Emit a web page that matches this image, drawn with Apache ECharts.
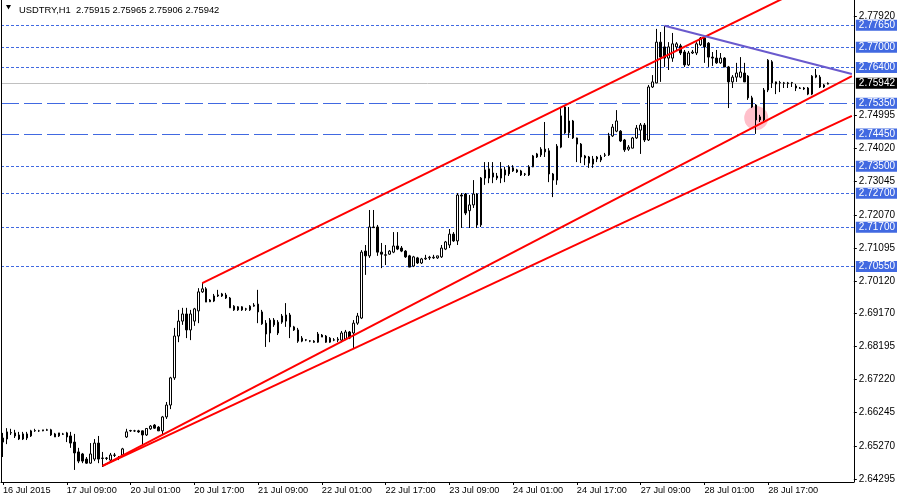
<!DOCTYPE html>
<html>
<head>
<meta charset="utf-8">
<script src="https://cdn.jsdelivr.net/npm/echarts@6/dist/echarts.min.js"></script>
<style>
html,body{margin:0;padding:0;background:#fff;}
#chart{width:900px;height:500px;}
</style>
</head>
<body>
<div id="chart"></div>
<script>
// ---- categories: trading days (label, first hour, number of hourly slots) ----
const tradingDays = [['16 Jul',17,7],['17 Jul',0,24],['20 Jul',0,24],['21 Jul',0,24],['22 Jul',0,24],
  ['23 Jul',0,24],['24 Jul',0,24],['27 Jul',0,24],['28 Jul',0,24],['29 Jul',0,15]];
const firstLabel = '16 Jul 2015';

// ---- OHLC (USDTRY, H1) ----
const opens = [2.6538,2.6547,2.6565,2.6565,2.6559,2.6547,2.6562,2.6556,2.6571,2.6571,2.6571,2.6574,2.6574,2.6562,2.6556,2.6562,2.6565,2.6556,2.6538,2.6509,
2.6503,2.6488,2.6476,2.6488,2.6535,2.6491,2.6491,2.6485,2.6500,2.6491,2.6500,2.6553,2.6571,2.6571,2.6571,2.6571,2.6559,2.6577,2.6588,2.6582,
2.6571,2.6612,2.6647,2.6727,2.6850,2.6894,2.6915,2.6868,2.6894,2.6924,2.6980,2.6989,2.6956,2.6953,2.6971,2.6974,2.6971,2.6962,2.6927,2.6936,
2.6936,2.6930,2.6927,2.6938,2.6944,2.6921,2.6888,2.6859,2.6897,2.6859,2.6891,2.6894,2.6912,2.6877,2.6868,2.6835,2.6838,2.6835,2.6835,2.6832,
2.6853,2.6850,2.6832,2.6838,2.6838,2.6838,2.6841,2.6862,2.6859,2.6888,2.6903,2.7100,2.7086,2.7171,2.7171,2.7097,2.7089,2.7091,2.7097,2.7115,
2.7109,2.7100,2.7086,2.7056,2.7080,2.7065,2.7077,2.7080,2.7080,2.7080,2.7083,2.7106,2.7118,2.7150,2.7130,2.7265,2.7268,2.7219,2.7236,2.7268,
2.7177,2.7315,2.7342,2.7330,2.7321,2.7315,2.7324,2.7327,2.7345,2.7339,2.7336,2.7327,2.7324,2.7348,2.7377,2.7383,2.7400,2.7395,2.7327,2.7309,
2.7406,2.7524,2.7448,2.7483,2.7433,2.7415,2.7380,2.7377,2.7356,2.7377,2.7368,2.7383,2.7383,2.7439,2.7453,2.7453,2.7427,2.7400,2.7403,2.7433,
2.7456,2.7471,2.7427,2.7583,2.7595,2.7715,2.7701,2.7668,2.7668,2.7701,2.7704,2.7686,2.7648,2.7683,2.7683,2.7707,2.7727,2.7712,2.7671,2.7668,
2.7654,2.7668,2.7642,2.7598,2.7612,2.7612,2.7624,2.7615,2.7551,2.7530,2.7495,2.7486,2.7574,2.7657,2.7598,2.7595,2.7595,2.7595,2.7595,2.7586,
2.7580,2.7580,2.7580,2.7562,2.7612,2.7612,2.7589,2.75915];
const highs = [2.6565,2.6579,2.6577,2.6574,2.6568,2.6568,2.6568,2.6574,2.6577,2.6574,2.6574,2.6577,2.6577,2.6565,2.6565,2.6565,2.6568,2.6568,2.6562,2.6521,
2.6506,2.6494,2.6535,2.6547,2.6556,2.6509,2.6494,2.6506,2.6506,2.6497,2.6521,2.6577,2.6574,2.6574,2.6574,2.6572,2.6579,2.6588,2.6591,2.6585,
2.6615,2.6656,2.6730,2.6874,2.6927,2.6933,2.6933,2.6927,2.6933,2.6991,2.7006,2.6994,2.6959,2.6974,2.6986,2.6977,2.6977,2.6965,2.6941,2.6938,
2.6938,2.6933,2.6941,2.6947,2.6986,2.6927,2.6897,2.6903,2.6903,2.6897,2.6915,2.6947,2.6918,2.6880,2.6874,2.6850,2.6841,2.6838,2.6838,2.6862,
2.6856,2.6853,2.6847,2.6844,2.6847,2.6865,2.6868,2.6865,2.6897,2.6918,2.7103,2.7118,2.7221,2.7221,2.7177,2.7124,2.7118,2.7103,2.7156,2.7156,
2.7115,2.7103,2.7089,2.7086,2.7083,2.7080,2.7089,2.7086,2.7089,2.7086,2.7118,2.7130,2.7165,2.7156,2.7271,2.7271,2.7271,2.7265,2.7309,2.7271,
2.7318,2.7362,2.7362,2.7362,2.7330,2.7362,2.7348,2.7353,2.7353,2.7342,2.7339,2.7330,2.7353,2.7383,2.7389,2.7406,2.7480,2.7403,2.7330,2.7415,
2.7524,2.7530,2.7524,2.7486,2.7434,2.7418,2.7383,2.7380,2.7380,2.7380,2.7383,2.7389,2.7448,2.7474,2.7515,2.7456,2.7430,2.7412,2.7436,2.7471,
2.7477,2.7477,2.7589,2.7618,2.7754,2.7745,2.7763,2.7715,2.7742,2.7715,2.7710,2.7692,2.7689,2.7692,2.7715,2.7730,2.7730,2.7715,2.7686,2.7692,
2.7683,2.7671,2.7645,2.7618,2.7654,2.7671,2.7654,2.7618,2.7557,2.7533,2.7501,2.7580,2.7665,2.7662,2.7599,2.7601,2.7598,2.7598,2.7598,2.7592,
2.7583,2.7583,2.7583,2.7618,2.7636,2.7618,2.7592,2.75965];
const lows = [2.6494,2.6532,2.6559,2.6550,2.6544,2.6544,2.6544,2.6553,2.6568,2.6568,2.6570,2.6571,2.6556,2.6553,2.6553,2.6559,2.6538,2.6521,2.6456,2.6476,
2.6476,2.6474,2.6474,2.6482,2.6476,2.6465,2.6485,2.6479,2.6494,2.6485,2.6494,2.6550,2.6568,2.6568,2.6565,2.6529,2.6556,2.6574,2.6577,2.6571,
2.6559,2.6606,2.6635,2.6721,2.6832,2.6883,2.6844,2.6838,2.6880,2.6888,2.6977,2.6950,2.6950,2.6950,2.6965,2.6965,2.6959,2.6933,2.6924,2.6924,
2.6924,2.6924,2.6924,2.6936,2.6888,2.6883,2.6818,2.6832,2.6877,2.6853,2.6886,2.6877,2.6844,2.6865,2.6830,2.6832,2.6835,2.6832,2.6830,2.6830,
2.6847,2.6830,2.6830,2.6835,2.6832,2.6832,2.6838,2.6841,2.6815,2.6883,2.6900,2.7030,2.7080,2.7168,2.7086,2.7050,2.7059,2.7089,2.7094,2.7103,
2.7097,2.7080,2.7053,2.7053,2.7062,2.7062,2.7074,2.7074,2.7077,2.7077,2.7080,2.7103,2.7109,2.7127,2.7118,2.7168,2.7206,2.7168,2.7227,2.7168,
2.7171,2.7295,2.7300,2.7300,2.7309,2.7300,2.7303,2.7321,2.7333,2.7330,2.7321,2.7321,2.7321,2.7347,2.7374,2.7377,2.7377,2.7303,2.7259,2.7295,
2.7403,2.7445,2.7433,2.7430,2.7362,2.7359,2.7353,2.7345,2.7345,2.7362,2.7362,2.7377,2.7380,2.7436,2.7450,2.7421,2.7392,2.7395,2.7402,2.7430,
2.7386,2.7421,2.7424,2.7580,2.7594,2.7598,2.7642,2.7633,2.7657,2.7692,2.7677,2.7642,2.7645,2.7680,2.7677,2.7704,2.7654,2.7642,2.7645,2.7651,
2.7651,2.7642,2.7521,2.7580,2.7598,2.7609,2.7598,2.7545,2.7521,2.7445,2.7480,2.7480,2.7568,2.7580,2.7562,2.7568,2.7580,2.7580,2.7583,2.7571,
2.7577,2.7574,2.7559,2.7559,2.7609,2.7580,2.7580,2.75906];
const closes = [2.6550,2.6568,2.6566,2.6556,2.6547,2.6562,2.6550,2.6571,2.6572,2.6571,2.6574,2.6573,2.6559,2.6553,2.6565,2.6561,2.6553,2.6535,2.6506,2.6482,
2.6482,2.6476,2.6503,2.6535,2.6488,2.6490,2.6490,2.6500,2.6499,2.6490,2.6518,2.6568,2.6572,2.6571,2.6568,2.6559,2.6578,2.6585,2.6579,2.6571,
2.6612,2.6647,2.6727,2.6850,2.6894,2.6915,2.6868,2.6915,2.6930,2.6980,2.6989,2.6950,2.6951,2.6968,2.6968,2.6968,2.6962,2.6933,2.6938,2.6927,
2.6927,2.6929,2.6938,2.6941,2.6921,2.6886,2.6856,2.6897,2.6883,2.6891,2.6909,2.6912,2.6877,2.6868,2.6835,2.6844,2.6839,2.6836,2.6832,2.6856,
2.6847,2.6832,2.6844,2.6839,2.6841,2.6859,2.6862,2.6844,2.6888,2.6909,2.7097,2.7086,2.7171,2.7169,2.7097,2.7091,2.7088,2.7100,2.7115,2.7106,
2.7100,2.7083,2.7053,2.7083,2.7065,2.7077,2.7079,2.7082,2.7082,2.7086,2.7109,2.7127,2.7150,2.7130,2.7265,2.7262,2.7212,2.7236,2.7268,2.7177,
2.7315,2.7339,2.7315,2.7318,2.7315,2.7342,2.7339,2.7348,2.7336,2.7333,2.7324,2.7326,2.7348,2.7380,2.7386,2.7400,2.7392,2.7327,2.7309,2.7409,
2.7498,2.7448,2.7483,2.7433,2.7415,2.7377,2.7374,2.7359,2.7371,2.7371,2.7377,2.7382,2.7439,2.7465,2.7483,2.7424,2.7398,2.7406,2.7433,2.7462,
2.7471,2.7427,2.7583,2.7598,2.7715,2.7671,2.7668,2.7701,2.7710,2.7710,2.7683,2.7648,2.7683,2.7686,2.7710,2.7727,2.7701,2.7671,2.7668,2.7654,
2.7668,2.7642,2.7598,2.7612,2.7624,2.7627,2.7598,2.7551,2.7524,2.7486,2.7486,2.7574,2.7662,2.7595,2.7592,2.7596,2.7594,2.7593,2.7596,2.7580,
2.7579,2.7577,2.7562,2.7615,2.7618,2.7583,2.7583,2.75942];

// ---- price axis tick labels ----
const yTickLabels = [2.77920,2.74995,2.74020,2.73045,2.72070,2.71095,2.70120,2.69170,2.68195,2.67220,2.66245,2.65270,2.64295];
const yMin = 2.64205, yMax = 2.78390;

// ---- horizontal levels ----
const levelsShortDash = [2.7765,2.7700,2.7640,2.7350,2.7270,2.7170,2.7055];
const levelsLongDash = [2.7535,2.7445];
const lastPrice = [2.75942];

// ---- drawn objects: [bar index, price] anchors ----
const channelTop = [[50,2.7006],[200,2.7868]];
const channelMid = [[25,2.6468],[213,2.7615]];
const channelLow = [[25,2.6468],[213,2.7498]];
const triangleTop = [[166,2.7763],[213,2.7621]];
const ellipseMark = [[189,2.7492]];

// ---- build ----
const categories = [];
tradingDays.forEach(([d,h0,n]) => { for (let k=0;k<n;k++){ const h=h0+k; categories.push(d+' '+(h<10?'0':'')+h+':00'); } });
const ohlc = opens.map((o,i) => [o, closes[i], lows[i], highs[i]]);
const lastIdx = ohlc.length - 1;
const FONT = '"Liberation Sans", Arial, sans-serif';
const BLUE = '#4169E1';
const showTick = (i) => i % 16 === 0 && i <= lastIdx;
const fmt5 = v => v.toFixed(5);

// level-line axis: draws crisp horizontal lines through splitLine at custom values
const levelAxis = (values, type, color) => ({
  type:'value', position:'left', min:yMin, max:yMax,
  axisLine:{show:false}, axisLabel:{show:false},
  axisTick:{show:false, customValues:values},
  splitLine:{show:true, lineStyle:{color, width:1, type}}
});
// level-label axis: draws the price tags on the right price scale
const tagAxis = (values, bg) => ({
  type:'value', position:'right', min:yMin, max:yMax,
  axisLine:{show:false}, axisTick:{show:false}, splitLine:{show:false},
  axisLabel:{show:true, customValues:values, formatter:fmt5, margin:2, color:'#fff', backgroundColor:bg,
    fontSize:10, fontFamily:FONT, padding:[1,2,0,3], lineHeight:10}
});

const trend = (name, data, color) => ({
  name, type:'line', data, z:5, showSymbol:false, symbol:'none', clip:true, silent:true,
  lineStyle:{color, width:2}, animation:false
});

const chart = echarts.init(document.getElementById('chart'), null, {renderer:'canvas'});
chart.setOption({
  animation:false,
  backgroundColor:'#fff',
  grid:{left:1, right:43, top:0, bottom:18},
  xAxis:{
    type:'category', data:categories, boundaryGap:true,
    axisLine:{show:true, lineStyle:{color:'#000', width:1}},
    axisTick:{show:true, alignWithLabel:true, interval:showTick, length:3, lineStyle:{color:'#000'}},
    axisLabel:{interval:showTick, align:'left', margin:4, color:'#000', fontSize:9.2, fontFamily:FONT,
      formatter:(v,i)=> i===0 ? firstLabel : v},
    splitLine:{show:false}
  },
  yAxis:[{
    type:'value', position:'right', min:yMin, max:yMax,
    axisLine:{show:true, lineStyle:{color:'#000', width:1}},
    axisTick:{show:true, length:3, customValues:yTickLabels, lineStyle:{color:'#000'}},
    axisLabel:{customValues:yTickLabels, formatter:fmt5, margin:5, color:'#000', fontSize:10, fontFamily:FONT},
    splitLine:{show:false}
  },{
    type:'value', position:'left', min:yMin, max:yMax,
    axisLine:{show:true, lineStyle:{color:'#000', width:1}},
    axisTick:{show:false}, axisLabel:{show:false}, splitLine:{show:false}
  },
    levelAxis(levelsShortDash, [3,2], BLUE),
    levelAxis(levelsLongDash, [18,5], BLUE),
    levelAxis(lastPrice, 'solid', '#C0C0C0'),
    tagAxis(levelsShortDash.concat(levelsLongDash), BLUE),
    tagAxis(lastPrice, '#000')
  ],
  graphic:[
    {type:'polygon', shape:{points:[[6,5],[11,5],[8.5,9.5]]}, style:{fill:'#000'}},
    {type:'text', x:19, y:10, style:{text:'USDTRY,H1  '+[opens[lastIdx],highs[lastIdx],lows[lastIdx],closes[lastIdx]].map(fmt5).join(' '),
      font:'9.4px '+FONT, fill:'#000', verticalAlign:'middle'}}
  ],
  series:[
    {type:'scatter', data:ellipseMark, symbol:'circle', symbolSize:24, z:1, silent:true,
      itemStyle:{color:'#FFC0CB', opacity:1}},
    {type:'candlestick', data:ohlc, z:2, barWidth:2, silent:true,
      itemStyle:{color:'#fff', color0:'#000', borderColor:'#000', borderColor0:'#000', borderWidth:1}},
    trend('channelTop', channelTop, '#FF0000'),
    trend('channelMid', channelMid, '#FF0000'),
    trend('channelLow', channelLow, '#FF0000'),
    trend('triangleTop', triangleTop, '#6A5ACD')
  ]
});
</script>
</body>
</html>
